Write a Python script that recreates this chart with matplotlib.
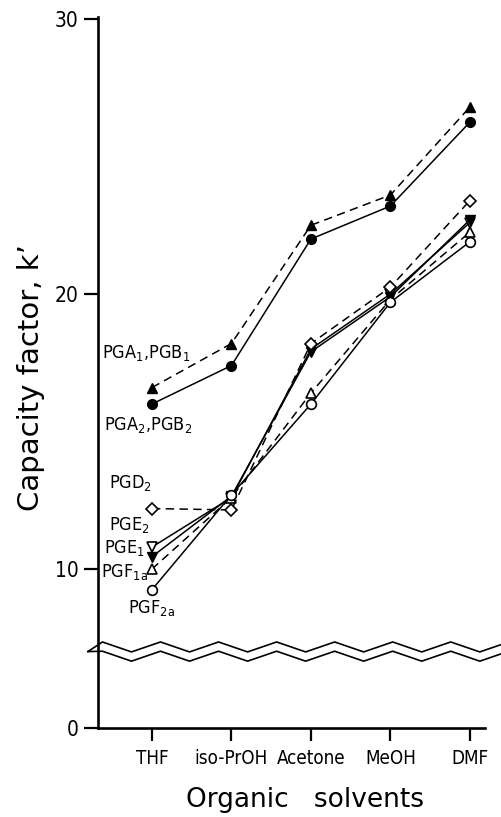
import numpy as np
import matplotlib
matplotlib.use('Agg')
import matplotlib.pyplot as plt
from matplotlib.ticker import FixedLocator, FixedFormatter, NullLocator
from matplotlib import font_manager as fm

# ---------------- data ----------------
solvents = ['THF', 'iso-PrOH', 'Acetone', 'MeOH', 'DMF']
pga1_pgb1 = [16.6, 18.2, 22.5, 23.6, 26.8]
pga2_pgb2 = [16.0, 17.4, 22.0, 23.2, 26.25]
pgd2 = [12.2, 12.15, 18.2, 20.25, 23.4]
pge2 = [10.8, 12.6, 18.0, 20.0, 22.6]
pge1 = [10.45, 12.65, 17.9, 19.9, 22.7]
pgf1a = [10.0, 12.6, 16.4, 19.8, 22.25]
pgf2a = [9.25, 12.7, 16.0, 19.7, 21.9]
yticks = [0, 10, 20, 30]
ytick_labels = ['0', '10', '20', '30']

series_labels = ['PGA$_1$,PGB$_1$', 'PGA$_2$,PGB$_2$', 'PGD$_2$', 'PGE$_2$',
                 'PGE$_1$', 'PGF$_{1a}$', 'PGF$_{2a}$']

# ---------------- style ----------------
plt.rcParams['mathtext.default'] = 'regular'
names = {f.name for f in fm.fontManager.ttflist}
cond = [f for f in fm.fontManager.ttflist
        if 'condensed' in str(f.stretch).lower() or 'narrow' in f.name.lower()]
if 'Liberation Sans Narrow' in names:
    NARROW = ['Liberation Sans Narrow', 'DejaVu Sans']
    STRETCH = 'normal'
elif any(f.name == 'DejaVu Sans' for f in cond):
    NARROW = ['DejaVu Sans']
    STRETCH = 'condensed'
else:
    NARROW = ['Liberation Sans', 'DejaVu Sans']
    STRETCH = 'normal'
plt.rcParams['font.family'] = NARROW
plt.rcParams['font.stretch'] = STRETCH

BREAK = 7.0
K = 0.397


def fwd(v):
    v = np.asarray(v, float)
    return np.where(v >= BREAK, v, BREAK - (BREAK - v) * K)


def inv(u):
    u = np.asarray(u, float)
    return np.where(u >= BREAK, u, BREAK - (BREAK - u) / K)


W, H = 502, 817
fig = plt.figure(figsize=(W / 100, H / 100), dpi=100)
ax = fig.add_axes([98 / W, 1 - 728 / H, 387 / W, 711 / H])
ax.set_yscale('function', functions=(fwd, inv))

x = np.arange(len(solvents))
lw = 1.1
ms = 7
dash = (0, (5.5, 3.5))

ax.plot(x, pga1_pgb1, linestyle=dash, color='black', lw=lw, marker='^',
        ms=ms, mfc='black', mec='black', zorder=3)
ax.plot(x, pga2_pgb2, linestyle='-', color='black', lw=lw, marker='o',
        ms=ms, mfc='black', mec='black', zorder=3)
ax.plot(x, pgd2, linestyle=dash, color='black', lw=lw, marker='D',
        ms=6, mfc='white', mec='black', mew=1.2, zorder=4)
ax.plot(x, pge2, linestyle='-', color='black', lw=lw, marker='v',
        ms=ms, mfc='white', mec='black', mew=1.2, zorder=3)
ax.plot(x, pge1, linestyle='-', color='black', lw=lw, marker='v',
        ms=ms, mfc='black', mec='black', zorder=3)
ax.plot(x, pgf1a, linestyle=dash, color='black', lw=lw, marker='^',
        ms=ms, mfc='white', mec='black', mew=1.2, zorder=3)
ax.plot(x, pgf2a, linestyle='-', color='black', lw=lw, marker='o',
        ms=ms, mfc='white', mec='black', mew=1.2, zorder=4)

ax.set_xlim(-0.679, 4.19)
ax.set_ylim(0, 30 + 2 / 27.5)

for s in ['top', 'right']:
    ax.spines[s].set_visible(False)
for s in ['left', 'bottom']:
    ax.spines[s].set_linewidth(1.9)

ax.yaxis.set_major_locator(FixedLocator(yticks))
ax.yaxis.set_major_formatter(FixedFormatter(ytick_labels))
ax.yaxis.set_minor_locator(NullLocator())
ax.set_xticks(x)
ax.set_xticklabels(solvents)
ax.tick_params(axis='y', direction='out', length=10, width=1.6, pad=4,
               labelsize=15)
ax.tick_params(axis='x', direction='out', length=9, width=1.6, pad=6,
               labelsize=13.5)

# series labels (right edges matched to the reference)
lab_pos = [(0.478, 17.85), (0.503, 15.24), (0.0, 13.13), (-0.025, 11.6),
           (-0.088, 10.76), (-0.05, 9.9), (0.289, 8.6)]
for (lx, ly), t in zip(lab_pos, series_labels):
    ax.text(lx, ly, t, ha='right', va='center', fontsize=13)

# axis break zig-zag (axes-fraction decoration)
trans = ax.transAxes
x0, x1 = -0.026, 1.044
step = 0.075
xs = np.arange(x0, x1 + step, step)
amp = 0.007
for c in (0.114, 0.101):
    ys = c + amp * np.where(np.arange(len(xs)) % 2 == 0, 1, -1)
    xs_full = np.concatenate([[x0], xs + step / 2])
    ys_full = np.concatenate([[0.1075], ys])
    ax.plot(xs_full, ys_full, transform=trans, color='black', lw=1.2,
            clip_on=False, zorder=5)

# axis titles
fig.text(31 / W, 1 - 378 / H, "Capacity factor, k\u2019", rotation=90,
         ha='center', va='center', fontsize=21, family='DejaVu Sans',
         stretch='normal')
fig.text(305 / W, 1 - 800 / H, "Organic   solvents", ha='center',
         va='center', fontsize=19, family='DejaVu Sans', stretch='normal')

fig.savefig('out.png', dpi=100)
